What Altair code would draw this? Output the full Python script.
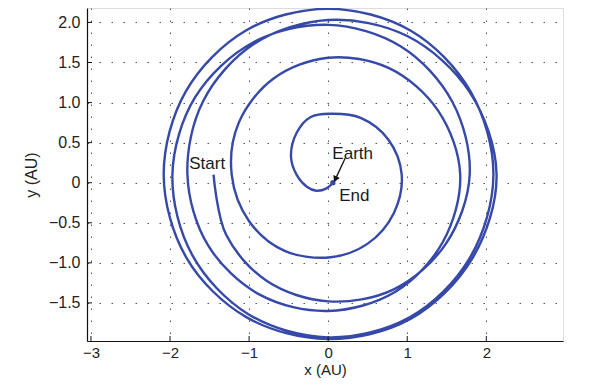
import altair as alt
import pandas as pd

# Trajectory (AU), in path order from Start to End
path_x = [-1.45, -1.29, -0.77, 0.00, 0.83, 1.49, 1.79, 1.57, 0.92, 0.00, -0.95, -1.68,
          -1.97, -1.72, -1.01, 0.00, 1.03, 1.79, 2.09, 1.80, 1.04, 0.00, -1.04, -1.80,
          -2.08, -1.79, -1.03, 0.00, 1.04, 1.82, 2.13, 1.79, 1.00, 0.00, -0.94, -1.58,
          -1.78, -1.52, -0.86, 0.00, 0.85, 1.45, 1.67, 1.39, 0.77, 0.00, -0.69, -1.13,
          -1.22, -1.00, -0.55, 0.03, 0.50, 0.83, 0.93, 0.76, 0.41, 0.03,
          -0.22, -0.40, -0.47, -0.40, -0.27, -0.15, -0.02, 0.06]
path_y = [0.10, -0.65, -1.23, -1.48, -1.33, -0.76, 0.10, 1.01, 1.70, 1.97, 1.75, 1.07,
          0.10, -0.90, -1.64, -1.93, -1.68, -0.94, 0.10, 1.14, 1.90, 2.17, 1.90, 1.14,
          0.10, -0.94, -1.68, -1.95, -1.70, -0.95, 0.10, 1.13, 1.83, 2.03, 1.73, 1.02,
          0.10, -0.78, -1.40, -1.60, -1.36, -0.74, 0.10, 0.90, 1.43, 1.56, 1.30, 0.75,
          0.10, -0.48, -0.85, -0.93, -0.76, -0.38, 0.10, 0.54, 0.81, 0.86,
          0.82, 0.62, 0.32, 0.10, -0.05, -0.10, -0.07, 0.00]

end_x = [0.06]
end_y = [0.00]

label_text = ["Start", "Earth", "End"]
label_x = [-1.53, 0.31, 0.33]
label_y = [0.23, 0.36, -0.17]

arrow_x = [0.215]
arrow_y = [0.305]
arrow_x2 = [0.096]
arrow_y2 = [0.054]

x_ticks = [-3, -2, -1, 0, 1, 2]
y_ticks = [-1.5, -1.0, -0.5, 0, 0.5, 1.0, 1.5, 2.0]

FONT = "Liberation Sans"
BLUE = "#3649A8"

df_path = pd.DataFrame({"x": path_x, "y": path_y, "i": list(range(len(path_x)))})
df_end = pd.DataFrame({"x": end_x, "y": end_y})
df_lab = pd.DataFrame({"t": label_text, "x": label_x, "y": label_y})
df_arrow = pd.DataFrame({"x": arrow_x, "y": arrow_y, "x2": arrow_x2, "y2": arrow_y2})
df_xt = pd.DataFrame({"v": x_ticks})
df_yt = pd.DataFrame({"v": y_ticks})

xs = alt.Scale(domain=[-3.05, 2.97], nice=False, zero=False)
ys = alt.Scale(domain=[-1.975, 2.18], nice=False, zero=False)

x_axis = alt.Axis(values=x_ticks, title="x (AU)", grid=True, gridDash=[1.5, 10.5],
                  gridColor="#555555", gridWidth=1, ticks=False, domainColor="#111111",
                  domainWidth=1.2,
                  labelExpr="replace(format(datum.value, 'd'), '-', '\u2212')",
                  labelFont=FONT, labelFontSize=15, labelColor="#222222", labelPadding=4,
                  titleFont=FONT, titleFontSize=15, titleFontWeight="normal",
                  titleColor="#222222", titlePadding=2)
y_axis = alt.Axis(values=y_ticks, title="y (AU)", grid=True, gridDash=[1.5, 10.5],
                  gridColor="#555555", gridWidth=1, ticks=False, domainColor="#111111",
                  domainWidth=1.2,
                  labelExpr="datum.value == 0 ? '0' : replace(format(datum.value, '.1f'), '-', '\u2212')",
                  labelFont=FONT, labelFontSize=16, labelColor="#222222", labelPadding=7,
                  titleFont=FONT, titleFontSize=16, titleFontWeight="normal",
                  titleColor="#222222", titlePadding=9)

X = alt.X("x:Q", scale=xs, axis=x_axis)
Y = alt.Y("y:Q", scale=ys, axis=y_axis)

line = alt.Chart(df_path).mark_line(color=BLUE, strokeWidth=2.4,
                                    interpolate="catmull-rom").encode(
    x=X, y=Y, order=alt.Order("i:Q"))

dot = alt.Chart(df_end).mark_point(filled=True, color=BLUE, size=28, opacity=1).encode(x=X, y=Y)

labels = alt.Chart(df_lab).mark_text(font=FONT, fontSize=17, color="#1a1a1a").encode(
    x=X, y=Y, text="t:N")

arrow = alt.Chart(df_arrow).mark_rule(color="#111111", strokeWidth=1.3).encode(
    x=X, y=Y, x2="x2:Q", y2="y2:Q")
head = alt.Chart(df_arrow).mark_point(shape="triangle", angle=205, filled=True,
                                      color="#111111", size=50, opacity=1).encode(
    x=alt.X("x2:Q", scale=xs, axis=x_axis), y=alt.Y("y2:Q", scale=ys, axis=y_axis))

xticks = alt.Chart(df_xt).mark_rule(color="#111111", strokeWidth=1).encode(
    x=alt.X("v:Q", scale=xs, axis=x_axis), y=alt.value(333), y2=alt.value(328))
yticks = alt.Chart(df_yt).mark_rule(color="#111111", strokeWidth=1).encode(
    y=alt.Y("v:Q", scale=ys, axis=y_axis), x=alt.value(0), x2=alt.value(5))

chart = alt.layer(line, dot, arrow, head, labels, xticks, yticks).properties(
    width=476, height=333,
    autosize=alt.AutoSizeParams(type="none"),
    padding={"left": 79, "top": 0, "right": 22, "bottom": 40},
).configure_view(stroke=None).configure(background="white")

chart.save("out.html", embed_options={"renderer": "svg", "actions": False})
